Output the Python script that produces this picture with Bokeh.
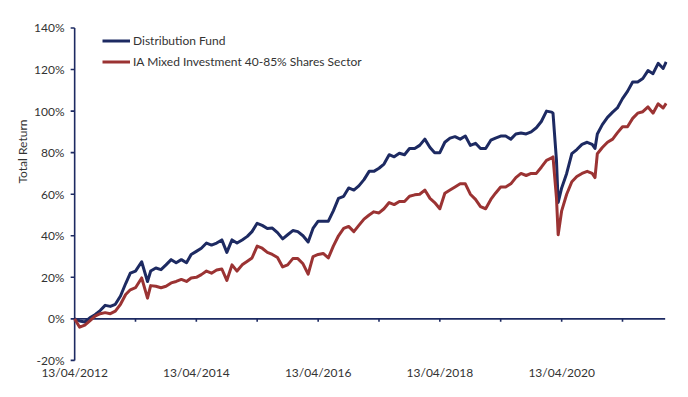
import pandas as pd
from bokeh.plotting import figure
from bokeh.models import (FixedTicker, DatetimeTickFormatter, PrintfTickFormatter,
                          Title, Legend, LegendItem, Range1d)
from bokeh.embed import file_html
from bokeh.resources import INLINE

# ---------------- data ----------------
dates = [
    "2012-04-13", "2012-05-13", "2012-06-13", "2012-07-13", "2012-08-13", "2012-09-13",
    "2012-10-13", "2012-11-13", "2012-12-13",
    "2013-01-13", "2013-02-13", "2013-03-13", "2013-04-13", "2013-05-20", "2013-06-24",
    "2013-07-13", "2013-08-13", "2013-09-13", "2013-10-13", "2013-11-13", "2013-12-13",
    "2014-01-13", "2014-02-13", "2014-03-13", "2014-04-13", "2014-05-13", "2014-06-13",
    "2014-07-13", "2014-08-13", "2014-09-13", "2014-10-13", "2014-11-13", "2014-12-13",
    "2015-01-13", "2015-02-13", "2015-03-13", "2015-04-13", "2015-05-13", "2015-06-13",
    "2015-07-13", "2015-08-13", "2015-09-13", "2015-10-13", "2015-11-13", "2015-12-13",
    "2016-01-13", "2016-02-13", "2016-03-13", "2016-04-13", "2016-05-13", "2016-06-13",
    "2016-07-13", "2016-08-13", "2016-09-13", "2016-10-13", "2016-11-13", "2016-12-13",
    "2017-01-13", "2017-02-13", "2017-03-13", "2017-04-13", "2017-05-13", "2017-06-13",
    "2017-07-13", "2017-08-13", "2017-09-13", "2017-10-13", "2017-11-13", "2017-12-13",
    "2018-01-13", "2018-02-13", "2018-03-13", "2018-04-13", "2018-05-13", "2018-06-13",
    "2018-07-13", "2018-08-13", "2018-09-13", "2018-10-13", "2018-11-13", "2018-12-13",
    "2019-01-13", "2019-02-13", "2019-03-13", "2019-04-13", "2019-05-13", "2019-06-13",
    "2019-07-13", "2019-08-13", "2019-09-13", "2019-10-13", "2019-11-13", "2019-12-13",
    "2020-01-13", "2020-02-13", "2020-02-21", "2020-03-13", "2020-03-23", "2020-04-13",
    "2020-05-13", "2020-06-13", "2020-07-13", "2020-08-13", "2020-09-13", "2020-10-13",
    "2020-10-30", "2020-11-13", "2020-12-13",
    "2021-01-13", "2021-02-13", "2021-03-13", "2021-04-13", "2021-05-13", "2021-06-13",
    "2021-07-13", "2021-08-13", "2021-09-13", "2021-10-13", "2021-11-13", "2021-12-13",
    "2021-12-31",
]

distribution_fund = [
    0, -1, -1.5, 0.5, 2, 4,
    6.5, 6, 7,
    11, 17, 22, 23, 27.5, 18,
    23, 24.5, 23.7, 26, 28.5, 27,
    28.5, 27, 31, 32.5, 34, 36.5,
    35.5, 36.5, 38, 32, 38, 36.5,
    38, 39.7, 42, 46, 45, 43.5,
    43.7, 41.5, 38.5, 40.5, 42.5, 42,
    40, 37, 43.5, 47, 47, 47,
    52, 58, 59, 63, 62, 64,
    67, 71, 71, 72.5, 74.5, 79,
    78, 79.7, 79, 82, 82, 83.5,
    86.5, 82.5, 80, 80, 85, 87,
    87.7, 86.5, 88, 83.5, 84.5, 82,
    82, 86, 87, 88, 88, 86.5,
    89, 89.5, 89, 90, 92, 95,
    100, 99.5, 99, 76, 56, 63,
    70, 79.5, 81.5, 84, 85, 84,
    82, 89, 93.5,
    97, 99.5, 101.5, 106, 109.5, 114,
    114, 115.7, 119.5, 118, 123, 120.5,
    123.7,
]

ia_mixed_sector = [
    0, -4, -3, -1, 1.3, 2.5,
    3, 2.5, 3.7,
    7, 11.7, 14, 15, 19.7, 10,
    16, 15.7, 15, 15.7, 17.3, 18,
    19, 18, 19.7, 20, 21.3, 23,
    22, 23.5, 24, 18.5, 26, 23,
    26, 27.7, 29.3, 35, 34, 32,
    31, 29.5, 25, 26, 29, 29,
    26.5, 21.5, 30, 31, 31.5, 29.3,
    35, 40, 43.5, 44.5, 42, 45,
    48, 50, 51.5, 51, 53, 56,
    55, 56.5, 56.5, 59, 59.7, 60,
    62, 58, 56, 53, 60.5, 62,
    63.5, 65, 65, 60, 57.5, 54,
    53, 57.5, 60.5, 63.5, 63.5, 65,
    68, 70, 69, 70, 70, 73,
    76.3, 77.5, 78, 58, 40.5, 52,
    60, 66, 68.5, 70, 71, 70,
    68, 79.5, 82.5,
    85, 86.5, 89.5, 92.5, 92.5, 96.5,
    99, 99.7, 102, 99, 103.5, 101.5,
    103.7,
]

series_names = ["Distribution Fund", "IA Mixed Investment 40-85% Shares Sector"]
y_ticks = [-20, 0, 20, 40, 60, 80, 100, 120, 140]
x_label_dates = ["2012-04-13", "2014-04-13", "2016-04-13", "2018-04-13", "2020-04-13"]
x_tick_dates = ["2012-04-13", "2013-04-13", "2014-04-13", "2015-04-13", "2016-04-13",
                "2017-04-13", "2018-04-13", "2019-04-13", "2020-04-13", "2021-04-13"]
axis_start, axis_end = "2012-04-13", "2021-12-25"   # extent of the horizontal 0% axis line
y_title = "Total Return"

# ---------------- layout / styling ----------------
W, H = 688, 397
BL, BR, BT, BB = 67, 21, 25, 35           # borders around the plot frame
x_start, x_end = "2012-03-01", "2022-01-08"
y_start, y_end = -21, 141.2
FONT = "Lato"
TXT = "#333333"
BLUE = "#1D2A62"
RED = "#9B3333"
AXIS = "#1D2A62"
AXW = 1.6


def to_ms(ds):
    return [pd.Timestamp(d).value / 1e6 for d in ds]


dt = pd.to_datetime(dates)
x0_ms, x1_ms = to_ms([x_start, x_end])
ax0_ms, ax1_ms = to_ms([axis_start, axis_end])
ms_per_px = (x1_ms - x0_ms) / (W - BL - BR)
pct_per_px = (y_end - y_start) / (H - BT - BB)

p = figure(width=W, height=H, x_axis_type="datetime",
           output_backend="svg", toolbar_location=None,
           x_range=Range1d(x0_ms, x1_ms), y_range=Range1d(y_start, y_end),
           min_border_left=BL, min_border_right=BR, min_border_top=BT, min_border_bottom=BB)
p.xgrid.visible = False
p.ygrid.visible = False
p.outline_line_color = None

# y axis: labels only (rule and ticks drawn below as glyphs)
yax = p.yaxis[0]
yax.ticker = FixedTicker(ticks=y_ticks)
yax.formatter = PrintfTickFormatter(format="%d%%")
yax.major_tick_in = 0
yax.major_tick_out = 0
yax.minor_tick_line_color = None
yax.major_tick_line_color = None
yax.axis_line_color = None
yax.major_label_text_font = FONT
yax.major_label_text_font_size = "12px"
yax.major_label_text_color = TXT
yax.major_label_standoff = 3

# x axis: labels only
xax = p.xaxis[0]
xax.ticker = FixedTicker(ticks=to_ms(x_label_dates))
fmt = "%d/%m/%Y"
xax.formatter = DatetimeTickFormatter(milliseconds=fmt, seconds=fmt, minsec=fmt, minutes=fmt,
                                      hourmin=fmt, hours=fmt, days=fmt, months=fmt, years=fmt)
xax.axis_line_color = None
xax.major_tick_in = 0
xax.major_tick_out = 0
xax.major_tick_line_color = None
xax.minor_tick_line_color = None
xax.major_label_text_font = FONT
xax.major_label_text_font_size = "12px"
xax.major_label_text_color = TXT
xax.major_label_standoff = 2

# axis rules and tick marks drawn as line glyphs
p.line([ax0_ms, ax1_ms], [0, 0], line_color=AXIS, line_width=AXW)                        # 0% line
p.line([ax0_ms, ax0_ms], [y_ticks[0], y_ticks[-1]], line_color=AXIS, line_width=AXW)     # y axis line
p.segment(x0=[ax0_ms - 4 * ms_per_px] * len(y_ticks), y0=y_ticks,
          x1=[ax0_ms] * len(y_ticks), y1=y_ticks, line_color=AXIS, line_width=AXW)       # y ticks
p.segment(x0=to_ms(x_tick_dates), y0=[0] * len(x_tick_dates),
          x1=to_ms(x_tick_dates), y1=[-3 * pct_per_px] * len(x_tick_dates),
          line_color=AXIS, line_width=AXW)                                               # x ticks

r_fund = p.line(dt, distribution_fund, line_color=BLUE, line_width=3, line_join="round")
r_sect = p.line(dt, ia_mixed_sector, line_color=RED, line_width=3, line_join="round")

legend = Legend(items=[LegendItem(label=series_names[0], renderers=[r_fund]),
                       LegendItem(label=series_names[1], renderers=[r_sect])],
                location=(35, 290), border_line_color=None, background_fill_alpha=0,
                padding=0, margin=0, spacing=0, label_height=21, glyph_height=21,
                glyph_width=28, label_standoff=3, label_text_font=FONT,
                label_text_font_size="12px", label_text_color=TXT)
p.add_layout(legend)

p.add_layout(Title(text=y_title, align="left", offset=179, text_font=FONT,
                   text_font_size="12px", text_font_style="normal", text_color=TXT,
                   standoff=4), "left")

open("out.html", "w").write(file_html(p, INLINE))
